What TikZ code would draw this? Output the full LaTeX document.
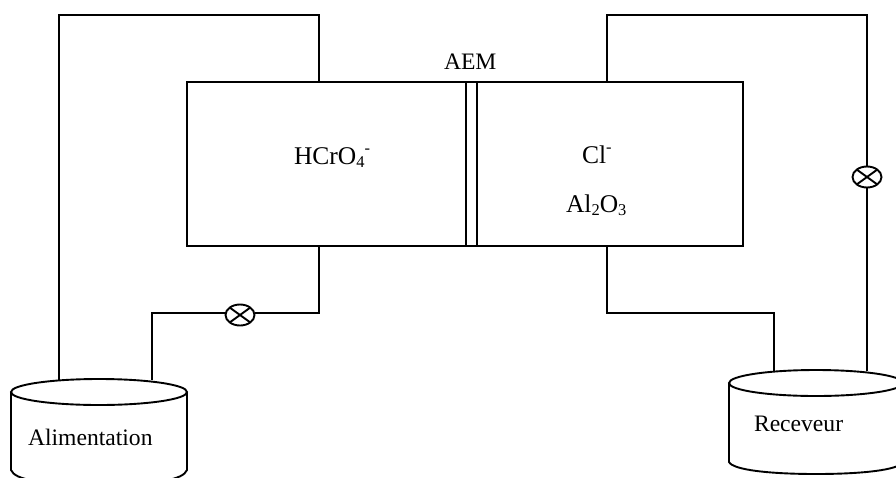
\documentclass[tikz,border=0pt]{standalone}
\usepackage{fontspec}
\setmainfont{Liberation Serif}
\usetikzlibrary{shapes.geometric}
\newcommand{\subtxt}[1]{\raisebox{-0.14em}{\fontsize{16.5}{17}\selectfont #1}}
\newcommand{\suptxt}[1]{\raisebox{0.42em}{\fontsize{16.5}{17}\selectfont #1}}
\newcommand{\bigtxt}{\fontsize{25.5}{28}\selectfont}
\tikzset{
  ln/.style={line width=1.9pt,line join=miter,black},
  cell/.style={draw,ln,rectangle,minimum height=164pt,inner sep=0pt,outer sep=0pt},
  valve/.style={draw,ln,ellipse,fill=white,minimum width=29pt,minimum height=21pt,inner sep=0pt,outer sep=0pt},
  lbl/.style={anchor=base west,inner sep=0pt,outer sep=0pt,font=\fontsize{23.6}{26}\selectfont},
}
\begin{document}
\begin{tikzpicture}[x=1pt,y=-1pt]
\useasboundingbox (0,0) rectangle (896,477);
% cell
\node[cell,minimum width=279pt,anchor=north west] (feed) at (187,82) {};
\node[cell,minimum width=266pt,anchor=north west] (recv) at (477,82) {};
\node[cell,minimum width=11pt,anchor=north west] (aem) at (466,82) {};
% pipe ends
\coordinate (ftop) at (319,82);
\coordinate (fbot) at (319,246);
\coordinate (rtop) at (607,82);
\coordinate (rbot) at (607,246);
\coordinate (ltankA) at (59,380);
\coordinate (ltankB) at (152,380);
\coordinate (rtankA) at (774,371);
\coordinate (rtankB) at (867,371);
% valves
\node[valve] (v1) at (240,315) {};
\draw[ln] (v1.north west) -- (v1.south east) (v1.north east) -- (v1.south west);
\node[valve] (v2) at (867,177) {};
\draw[ln] (v2.north west) -- (v2.south east) (v2.north east) -- (v2.south west);
% pipes
\coordinate (fc) at (319,313);
\coordinate (lc) at (152,313);
\draw[ln] (ftop) -- (319,15) -- (59,15) -- (ltankA);
\draw[ln] (fbot) -- (fc) -- (v1.east |- fc);
\draw[ln] (v1.west |- lc) -- (lc) -- (ltankB);
\draw[ln] (rtop) -- (607,15) -- (867,15) -- (v2.north);
\draw[ln] (v2.south) -- (rtankB);
\draw[ln] (rbot) -- (607,313) -- (774,313) -- (rtankA);
% tanks
\draw[ln] (99,392) ellipse [x radius=88,y radius=13];
\draw[ln] (11,392) -- (11,470) .. controls (15,480) and (40,484) .. (99,484) .. controls (158,484) and (183,480) .. (187,470) -- (187,392);
\draw[ln] (816,383) ellipse [x radius=87,y radius=13];
\draw[ln] (729,383) -- (729,462) .. controls (733,470) and (770,474) .. (816,474) .. controls (862,474) and (899,470) .. (903,462) -- (903,383);
% labels
\node[lbl] (laem) at (444,69) {AEM};
\node[lbl,font=\bigtxt] (lh) at (294,164) {HCrO\subtxt{4}\suptxt{-}};
\node[lbl,font=\bigtxt] (lcl) at (582,163) {Cl\suptxt{-}};
\node[lbl,font=\bigtxt] (lal) at (566,212) {Al\subtxt{2}O\subtxt{3}};
\node[lbl] (lali) at (28,445) {Alimentation};
\node[lbl] (lrec) at (754,431) {Receveur};
\end{tikzpicture}
\end{document}
